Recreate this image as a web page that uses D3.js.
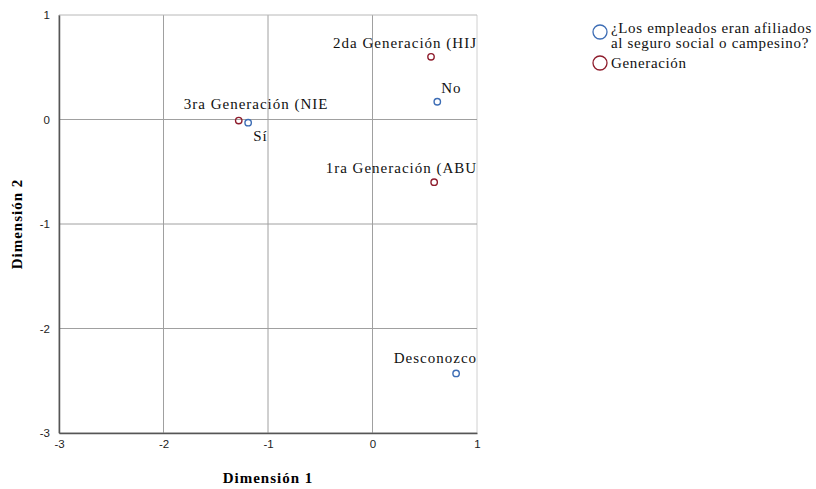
<!DOCTYPE html>
<html><head><meta charset="utf-8">
<script src="https://cdn.jsdelivr.net/npm/d3@7"></script>
<style>body{margin:0;background:#fff}</style>
</head><body>
<svg id="c" width="816" height="489"></svg>
<script>
const xTicks = [-3, -2, -1, 0, 1];
const yTicks = [-3, -2, -1, 0, 1];
const legendLines = [["¿Los empleados eran afiliados", "al seguro social o campesino?"], ["Generación"]];
const afiliadoLabels = ["Sí", "No", "Desconozco"];
const afiliadoX = [-1.19, 0.62, 0.80];
const afiliadoY = [-0.03, 0.17, -2.43];
const generacionLabels = ["3ra Generación (NIE", "2da Generación (HIJ", "1ra Generación (ABU"];
const generacionX = [-1.28, 0.56, 0.59];
const generacionY = [-0.01, 0.60, -0.60];

// label placement offsets (pixels) and anchors
const afiliadoOff = [[5, 18, "start"], [4, -9, "start"], [21, -10, "end"]];
const generacionOff = [[-55, -12, "start"], [46, -9, "end"], [43, -9, "end"]];

const colors = ["#3d6db5", "#8e1c2c"];
const serif = "Liberation Serif, Times New Roman, serif";
const svg = d3.select("#c");
const x = d3.scaleLinear().domain([-3, 1]).range([59, 477]);
const y = d3.scaleLinear().domain([-3, 1]).range([433, 15]);

// grid
svg.append("g").selectAll("line").data(xTicks).join("line")
  .attr("x1", d => x(d)).attr("x2", d => x(d)).attr("y1", y(1)).attr("y2", y(-3))
  .attr("stroke", d => d === 1 ? "#d0d0d0" : "#a0a0a0").attr("stroke-width", 1);
svg.append("g").selectAll("line").data(yTicks).join("line")
  .attr("y1", d => y(d)).attr("y2", d => y(d)).attr("x1", x(-3)).attr("x2", x(1))
  .attr("stroke", d => d === 1 ? "#b8b8b8" : "#a0a0a0").attr("stroke-width", 1);

// axes
const fmt = d => String(d);
const xa = svg.append("g").attr("transform", `translate(0,${y(-3)})`)
  .call(d3.axisBottom(x).tickValues(xTicks).tickSize(0).tickPadding(7).tickFormat(fmt));
const ya = svg.append("g").attr("transform", `translate(${x(-3)},0)`)
  .call(d3.axisLeft(y).tickValues(yTicks).tickSize(0).tickPadding(9).tickFormat(fmt));
[xa, ya].forEach(a => {
  a.select(".domain").attr("stroke", "#555").attr("stroke-width", 1.5);
  a.selectAll("text").attr("font-family", "Liberation Sans, Arial, sans-serif").attr("font-size", 11.5).attr("fill", "#222");
});

// axis titles
svg.append("text").attr("x", 268).attr("y", 483).attr("text-anchor", "middle")
  .attr("font-family", serif).attr("font-weight", "bold").attr("font-size", 15).attr("letter-spacing", 1)
  .text("Dimensión 1");
svg.append("text").attr("transform", "translate(22,224) rotate(-90)").attr("text-anchor", "middle")
  .attr("font-family", serif).attr("font-weight", "bold").attr("font-size", 15).attr("letter-spacing", 1)
  .text("Dimensión 2");

function drawSeries(xs, ys, labels, offs, color) {
  const g = svg.append("g");
  const data = xs.map((v, i) => ({x: v, y: ys[i], l: labels[i], o: offs[i]}));
  g.selectAll("text").data(data).join("text")
    .attr("x", d => x(d.x) + d.o[0]).attr("y", d => y(d.y) + d.o[1])
    .attr("text-anchor", d => d.o[2])
    .attr("font-family", serif).attr("font-size", 15).attr("letter-spacing", 1).attr("fill", "#111")
    .text(d => d.l);
  g.selectAll("circle").data(data).join("circle")
    .attr("cx", d => x(d.x)).attr("cy", d => y(d.y)).attr("r", 3.2)
    .attr("fill", "none").attr("stroke", color).attr("stroke-width", 1.4);
}
drawSeries(afiliadoX, afiliadoY, afiliadoLabels, afiliadoOff, colors[0]);
drawSeries(generacionX, generacionY, generacionLabels, generacionOff, colors[1]);

// legend
const lg = svg.append("g").attr("font-family", serif).attr("font-size", 15).attr("letter-spacing", 0.65).attr("fill", "#111");
const legendCy = [32, 63];
const legendBase = [[33, 48], [68]];
legendLines.forEach((lines, i) => {
  lg.append("circle").attr("cx", 600).attr("cy", legendCy[i]).attr("r", 7)
    .attr("fill", "none").attr("stroke", colors[i]).attr("stroke-width", 1.3);
  lines.forEach((t, j) => lg.append("text").attr("x", 611).attr("y", legendBase[i][j]).text(t));
});
</script>
</body></html>
